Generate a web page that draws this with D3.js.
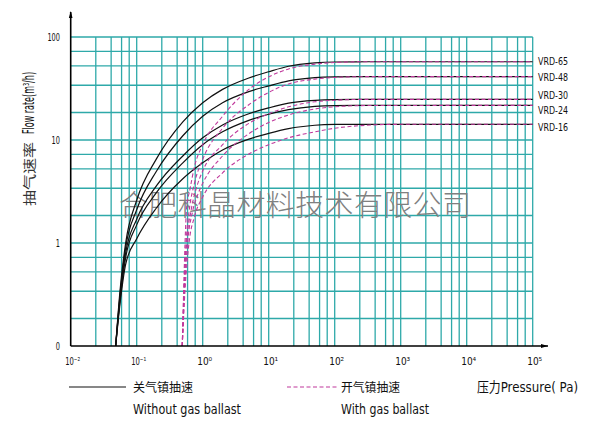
<!DOCTYPE html>
<html><head><meta charset="utf-8">
<script src="https://cdn.jsdelivr.net/npm/d3@7/dist/d3.min.js"></script>
<style>
html,body{margin:0;padding:0;background:#fff;}
svg{display:block;}
text{font-family:"DejaVu Sans","Noto Sans CJK SC",sans-serif;fill:#111;}
</style></head>
<body><svg id="c" width="600" height="423"></svg>
<script>
// ---- data ----
const xTickValues = [0.01, 0.1, 1, 10, 100, 1000, 10000, 100000];
const xTickLabels = ["10⁻²", "10⁻¹", "10⁰", "10¹", "10²", "10³", "10⁴", "10⁵"];
const yTickValues = [0.1, 1, 10, 100];
const yTickLabels = ["0", "1", "10", "100"];
const xMinorMult = [2.4, 4.1, 5.9, 7.7];
const yMinorMult = [1.85, 3.4, 5.25, 7.25];
const models = ["VRD-65", "VRD-48", "VRD-30", "VRD-24", "VRD-16"];

const solidP = [0.048, 0.056, 0.068, 0.1, 0.2, 0.5, 1, 2, 5, 10, 20, 50, 100, 300, 100000];
const solid65 = [0.1, 0.35, 1.0, 2.6, 6.6, 15, 23, 31, 40, 46, 52, 56, 57.2, 57.5, 57.5];
const solid48 = [0.1, 0.32, 0.9, 2.1, 5.0, 11, 17, 23, 29.5, 33.5, 37.5, 40.3, 41, 41.2, 41.2];
const solid30 = [0.1, 0.3, 0.8, 1.7, 3.6, 7.0, 10.5, 14, 18, 20.5, 22.8, 24.3, 24.7, 24.8, 24.8];
const solid24 = [0.1, 0.28, 0.72, 1.5, 3.1, 6.0, 9.0, 12, 15.5, 17.8, 19.7, 21.2, 21.6, 21.7, 21.7];
const solid16 = [0.1, 0.26, 0.62, 1.1, 2.2, 4.2, 6.0, 8.0, 10.2, 11.6, 12.9, 13.9, 14.15, 14.2, 14.2];

const dash65P = [0.49, 0.515, 0.54, 0.57, 0.64, 0.75, 1, 2, 5, 10, 20, 50, 100, 300, 100000];
const dash65 = [0.1, 0.35, 1.0, 2.2, 3.3, 5.5, 9, 17, 31, 41, 49, 54.5, 56.5, 57.5, 57.5];
const dash48P = [0.49, 0.52, 0.56, 0.62, 0.75, 1, 2, 5, 10, 20, 50, 100, 300, 100000];
const dash48 = [0.1, 0.35, 1.0, 2.0, 3.8, 6.5, 13, 22, 29, 35, 39, 40.5, 41.2, 41.2];
const dash30P = [0.49, 0.525, 0.57, 0.66, 0.8, 1, 2, 5, 10, 20, 50, 100, 300, 100000];
const dash30 = [0.1, 0.35, 1.0, 2.0, 3.4, 5, 9, 14.5, 18, 21, 23.5, 24.3, 24.8, 24.8];
const dash24P = [0.49, 0.53, 0.59, 0.7, 0.85, 1, 2, 5, 10, 20, 50, 100, 300, 100000];
const dash24 = [0.1, 0.35, 1.0, 2.0, 3.0, 3.8, 7, 11.5, 14.8, 17.5, 20, 21, 21.6, 21.7];
const dash16P = [0.49, 0.54, 0.62, 0.75, 1, 2, 5, 10, 20, 50, 100, 300, 1000, 100000];
const dash16 = [0.1, 0.35, 1.0, 1.8, 2.8, 4.8, 7.3, 9, 10.5, 12, 13, 13.9, 14.2, 14.2];

const solidSeries = [solid65, solid48, solid30, solid24, solid16];
const dashSeries = [[dash65P, dash65], [dash48P, dash48], [dash30P, dash30], [dash24P, dash24], [dash16P, dash16]];

// ---- chart ----
const svg = d3.select("#c");
const x = d3.scaleLog().domain([0.01, 100000]).range([70.7, 532.7]);
const y = d3.scaleLog().domain([0.1, 100]).range([346, 37]);
const gridColor = "#2ea9a9";
const CJK = "'Noto Sans CJK SC'";

const xGrid = [];
xTickValues.forEach((d, i) => { xGrid.push(d); if (i < xTickValues.length - 1) xMinorMult.forEach(m => xGrid.push(d * m)); });
const yGrid = [];
yTickValues.forEach((d, i) => { yGrid.push(d); if (i < yTickValues.length - 1) yMinorMult.forEach(m => yGrid.push(d * m)); });

const grid = svg.append("g");
grid.selectAll(".vg").data(xGrid.filter(d => d > 0.01)).join("line")
  .attr("x1", d => x(d)).attr("x2", d => x(d)).attr("y1", y(100)).attr("y2", y(0.1))
  .attr("stroke", gridColor).attr("stroke-width", 1.3);
grid.selectAll(".hg").data(yGrid.filter(d => d > 0.1)).join("line")
  .attr("x1", x(0.01)).attr("x2", x(100000)).attr("y1", d => y(d)).attr("y2", d => y(d))
  .attr("stroke", gridColor).attr("stroke-width", 1.3);

// watermark
svg.append("text").attr("x", 119).attr("y", 216)
  .style("font-family", CJK).style("font-size", "29px").style("font-weight", 300)
  .style("fill", "#808080").attr("textLength", 352).attr("lengthAdjust", "spacing").text("合肥科晶材料技术有限公司");

// curves
const line = d3.line().x(d => x(d[0])).y(d => y(d[1])).curve(d3.curveMonotoneX);
solidSeries.forEach(s => {
  svg.append("path").attr("d", line(solidP.map((p, i) => [p, s[i]])))
    .attr("fill", "none").attr("stroke", "#111").attr("stroke-width", 1.2);
});
dashSeries.forEach(([ps, s]) => {
  svg.append("path").attr("d", line(ps.map((p, i) => [p, s[i]])))
    .attr("fill", "none").attr("stroke", "#c0399c").attr("stroke-width", 1.1).attr("stroke-dasharray", "4,2.5");
});

// axes
const axisG = svg.append("g");
axisG.append("line").attr("x1", x(0.01)).attr("x2", 548).attr("y1", y(0.1)).attr("y2", y(0.1)).attr("stroke", "#000").attr("stroke-width", 1.6);
axisG.append("line").attr("x1", x(0.01)).attr("x2", x(0.01)).attr("y1", y(0.1)).attr("y2", 12).attr("stroke", "#000").attr("stroke-width", 1.6);
axisG.append("path").attr("d", `M548,${y(0.1)} l-7,-2 l0,4 z`).attr("fill", "#000");
axisG.append("path").attr("d", `M${x(0.01)},11 l-1.8,7 l3.6,0 z`).attr("fill", "#000");

// y tick labels
svg.selectAll(".yl").data(yTickValues).join("text")
  .attr("x", 60).attr("y", d => y(d) + 4).attr("text-anchor", "end")
  .style("font-size", "11px")
  .attr("textLength", (d, i) => yTickLabels[i].length * 4.2).attr("lengthAdjust", "spacingAndGlyphs")
  .text((d, i) => yTickLabels[i]);

// x tick labels
svg.selectAll(".xl").data(xTickValues).join("text")
  .attr("x", d => x(d) - 5.5).attr("y", 365).style("font-size", "10px")
  .attr("textLength", 15).attr("lengthAdjust", "spacingAndGlyphs")
  .text((d, i) => xTickLabels[i]);

// curve labels
const labelY = [61, 77, 95, 109.5, 127];
svg.selectAll(".cl").data(models).join("text")
  .attr("x", 538).attr("y", (d, i) => labelY[i] + 4).style("font-size", "11px")
  .attr("textLength", 30).attr("lengthAdjust", "spacingAndGlyphs").text(d => d);

// y axis title
svg.append("text").attr("transform", "translate(34,206) rotate(-90)")
  .style("font-family", CJK).style("font-size", "13px").style("fill", "#333")
  .attr("textLength", 64).attr("lengthAdjust", "spacingAndGlyphs").text("抽气速率");
svg.append("text").attr("transform", "translate(34,134) rotate(-90)")
  .style("font-size", "16px").attr("textLength", 62).attr("lengthAdjust", "spacingAndGlyphs")
  .text("Flow rate(m³/h)");

// legend
svg.append("line").attr("x1", 69).attr("x2", 126).attr("y1", 387).attr("y2", 387).attr("stroke", "#111").attr("stroke-width", 1.2);
svg.append("text").attr("x", 133).attr("y", 392).style("font-family", CJK).style("font-size", "12.5px")
  .attr("textLength", 60).attr("lengthAdjust", "spacingAndGlyphs").text("关气镇抽速");
svg.append("text").attr("x", 133).attr("y", 414).style("font-size", "14px")
  .attr("textLength", 108).attr("lengthAdjust", "spacingAndGlyphs").text("Without gas ballast");
svg.append("line").attr("x1", 287).attr("x2", 338).attr("y1", 387).attr("y2", 387).attr("stroke", "#c0399c").attr("stroke-width", 1.1).attr("stroke-dasharray", "4,2.5");
svg.append("text").attr("x", 341).attr("y", 392).style("font-family", CJK).style("font-size", "12.5px")
  .attr("textLength", 59).attr("lengthAdjust", "spacingAndGlyphs").text("开气镇抽速");
svg.append("text").attr("x", 341).attr("y", 414).style("font-size", "14px")
  .attr("textLength", 88).attr("lengthAdjust", "spacingAndGlyphs").text("With gas ballast");
svg.append("text").attr("x", 477).attr("y", 392).style("font-size", "14px")
  .attr("textLength", 101).attr("lengthAdjust", "spacingAndGlyphs").text("压力Pressure( Pa)");
</script></body></html>
